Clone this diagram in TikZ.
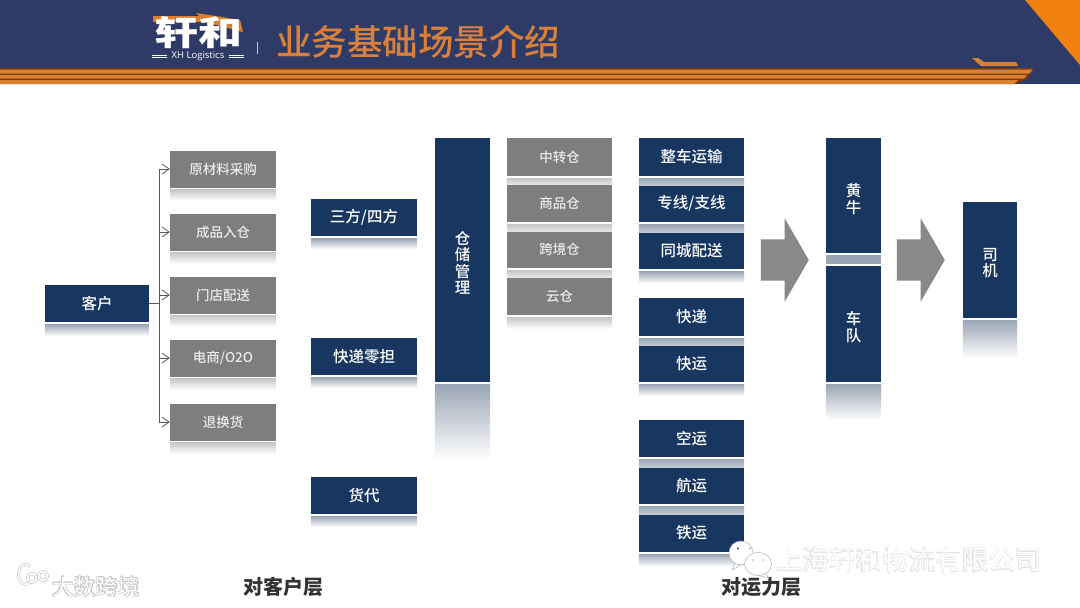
\documentclass[tikz,border=0pt]{standalone}
\usepackage{fontspec}
\usepackage[copies]{contour}
\setmainfont{Noto Sans CJK SC}
\newfontfamily\medfont{Noto Sans CJK SC Medium}
\newfontfamily\logofont{Open Sans}
\usetikzlibrary{arrows.meta,calc,shapes.arrows}
\definecolor{headnavy}{HTML}{2E3B66}
\definecolor{boxnavy}{HTML}{173660}
\definecolor{boxgray}{HTML}{7F7D7E}
\definecolor{arrowgray}{HTML}{8A8889}
\definecolor{stripeorange}{HTML}{D9812F}
\definecolor{stripebrown}{HTML}{7A3B14}
\definecolor{cornerorange}{HTML}{F08010}
\definecolor{titleorange}{HTML}{D8803C}
\definecolor{navymirror}{HTML}{9AA6B5}
\definecolor{graymirror}{HTML}{C8C7C7}
\newcommand{\boxfont}[1]{\medfont\fontsize{#1}{#1}\selectfont}
\newcommand{\mirror}[4]{\shade[top color=#3, bottom color=#4] ($(#1.south west)+(0,2)$) rectangle ($(#1.south east)+(0,#2)$);}
\tikzset{
  navybox/.style={fill=boxnavy, text=white, inner sep=0pt, minimum width=105pt, minimum height=37pt, font=\boxfont{15.5}},
  graybox/.style={fill=boxgray, text=white!92!black, inner sep=0pt, minimum width=106pt, minimum height=37pt, font=\boxfont{13.5}},
  tallbox/.style={navybox, minimum width=55pt, align=center},
  bigarrow/.style={shape=single arrow, fill=arrowgray, inner sep=0pt, minimum height=48pt, single arrow head extend=21pt, single arrow tip angle=120, anchor=tip},
  linkarrow/.style={draw=black!65, line width=0.8pt, -{Straight Barb[length=7pt,width=10pt]}},
  wmline/.style={draw=black!28, double=white, line width=0.5pt, double distance=1.8pt},
  layerlabel/.style={font=\fontsize{20}{20}\selectfont\bfseries, text=black!80}
}
\begin{document}
\begin{tikzpicture}[x=1pt,y=-1pt]
\useasboundingbox (0,0) rectangle (1080,608);
\fill[white] (0,0) rectangle (1080,608);
\fill[headnavy] (0,0) rectangle (1080,84);
\fill[cornerorange] (1025,0) -- (1080,0) -- (1080,65) -- cycle;
\fill[stripebrown] (0,68) -- (1033,68) -- (1027,79) -- (1016,84) -- (0,84) -- cycle;
\fill[stripeorange] (0,69.5) -- (1033,69.5) -- (1029,73.5) -- (0,73.5) -- cycle;
\fill[stripeorange] (0,75) -- (1027,75) -- (1024,78.5) -- (0,78.5) -- cycle;
\fill[stripeorange] (0,80) -- (1018,80) -- (1014,84) -- (0,84) -- cycle;
\fill[stripeorange] (972,58) -- (978,58) -- (984,62) -- (1016,62) -- (1018,66) -- (981,66) -- cycle;

\fill[stripeorange] (153,16) rectangle (205,22);
\fill[stripeorange] (196,13) -- (216,16) -- (240,20) -- (243,32) -- (205,22) -- cycle;
\node[text=white, font=\boxfont{40}\bfseries, inner sep=0pt, xscale=1.1, yscale=0.85] (logozi) at (198,33) {轩和};
\node[text=white, font=\logofont\fontsize{9.5}{9.5}\selectfont, inner sep=0pt] (logoen) at (198,56) {XH Logistics};
\draw[white, line width=0.5pt] (152,55) -- (167,55) (152,57) -- (167,57) (229,55) -- (244,55) (229,57) -- (244,57);
\draw[white!70!headnavy, line width=0.6pt] (257,42) -- (257,54);
\node[text=titleorange, font=\boxfont{35.5}, inner sep=0pt] (biaoti) at (418,42) {业务基础场景介绍};

\node[navybox, minimum width=104pt] (kehu) at (97,303.5) {客户};
\node[graybox] (yuancai) at (223,169) {原材料采购};
\node[graybox] (chengpin) at (223,232) {成品入仓};
\node[graybox] (mendian) at (223,295) {门店配送};
\node[graybox] (dianshang) at (223,358) {电商/O2O};
\node[graybox] (tuihuan) at (223,422) {退换货};
\coordinate (fenzhi) at (159,303.5);
\draw[black!65, line width=0.8pt] (kehu.east) -- (fenzhi);
\draw[linkarrow] (fenzhi) |- (yuancai.west);
\draw[linkarrow] (fenzhi) |- (chengpin.west);
\draw[linkarrow] (fenzhi) |- (mendian.west);
\draw[linkarrow] (fenzhi) |- (dianshang.west);
\draw[linkarrow] (fenzhi) |- (tuihuan.west);
\mirror{kehu}{14}{navymirror}{white}
\mirror{yuancai}{13}{graymirror}{white}
\mirror{chengpin}{13}{graymirror}{white}
\mirror{mendian}{13}{graymirror}{white}
\mirror{dianshang}{13}{graymirror}{white}
\mirror{tuihuan}{13}{graymirror}{white}

\node[navybox, minimum width=106pt] (sanfang) at (364,217.5) {三方/四方};
\node[navybox, minimum width=106pt] (kuaidi) at (364,356.5) {快递零担};
\node[navybox, minimum width=106pt] (huodai) at (364,495.5) {货代};
\mirror{sanfang}{13}{navymirror}{white}
\mirror{kuaidi}{13}{navymirror}{white}
\mirror{huodai}{13}{navymirror}{white}

\node[tallbox, minimum height=244pt] (cangchu) at (462.5,260) {};
\node[text=white, font=\boxfont{15.5}, align=center, inner sep=0pt] (cangchuzi) at (462.5,263) {仓\\[1pt]储\\[1pt]管\\[1pt]理};
\mirror{cangchu}{78}{navymirror}{white}

\node[graybox, minimum width=105pt, minimum height=38pt] (zhongzhuan) at (559.5,157) {中转仓};
\node[graybox, minimum width=105pt, minimum height=38pt] (shangpin) at (559.5,203) {商品仓};
\node[graybox, minimum width=105pt] (kuajing) at (559.5,249.5) {跨境仓};
\node[graybox, minimum width=105pt, minimum height=38pt] (yuncang) at (559.5,296) {云仓};
\mirror{zhongzhuan}{8}{graymirror}{black!10}
\mirror{shangpin}{9}{graymirror}{black!10}
\mirror{kuajing}{9}{graymirror}{black!10}
\mirror{yuncang}{14}{graymirror}{white}

\node[navybox, minimum height=38pt] (zhengche) at (691.5,157) {整车运输};
\node[navybox] (zhuanxian) at (691.5,203.5) {专线/支线};
\node[navybox] (tongcheng) at (691.5,250.5) {同城配送};
\node[navybox, minimum height=38pt] (kuaidi2) at (691.5,317) {快递};
\node[navybox] (kuaiyun) at (691.5,363.5) {快运};
\node[navybox] (kongyun) at (691.5,438.5) {空运};
\node[navybox] (hangyun) at (691.5,485.5) {航运};
\node[navybox, minimum height=38pt] (tieyun) at (691.5,533) {铁运};
\mirror{zhengche}{9}{navymirror}{navymirror!60}
\mirror{zhuanxian}{10}{navymirror}{navymirror!60}
\mirror{tongcheng}{14}{navymirror}{white}
\mirror{kuaidi2}{9}{navymirror}{navymirror!60}
\mirror{kuaiyun}{14}{navymirror}{white}
\mirror{kongyun}{10}{navymirror}{navymirror!60}
\mirror{hangyun}{10}{navymirror}{navymirror!60}
\mirror{tieyun}{14}{navymirror}{white}

\node[bigarrow] (jiantou1) at (809,260) {\rule{0pt}{41pt}};
\node[bigarrow] (jiantou2) at (945,260) {\rule{0pt}{41pt}};

\node[tallbox, minimum height=115pt] (huangniu) at (853.5,195.5) {};
\node[text=white, font=\boxfont{15.5}, align=center, inner sep=0pt] (huangniuzi) at (853.5,199) {黄\\[1pt]牛};
\node[tallbox, minimum height=116pt] (chedui) at (853.5,324) {};
\node[text=white, font=\boxfont{15.5}, align=center, inner sep=0pt] (cheduizi) at (853.5,327) {车\\[1pt]队};
\fill[navymirror] ($(huangniu.south west)+(0,2)$) rectangle ($(chedui.north east)+(0,-2)$);
\mirror{chedui}{38}{navymirror}{white}

\node[tallbox, minimum height=116pt, minimum width=54pt] (siji) at (990,260) {};
\node[text=white, font=\boxfont{15.5}, align=center, inner sep=0pt] (sijizi) at (990,263) {司\\[1pt]机};
\mirror{siji}{40}{navymirror}{white}

\node[layerlabel, inner sep=0pt] (duikehu) at (283,587) {对客户层};
\node[layerlabel, inner sep=0pt] (duiyunli) at (761,587) {对运力层};

\draw[black!30, fill=white, line width=0.5pt] (735,563) -- (732,570) -- (741,565) -- cycle;
\draw[black!30, fill=white, line width=0.5pt] (741,553) ellipse (12 and 12);
\draw[black!30, fill=white, line width=0.5pt] (764,572) -- (769,578) -- (757,575) -- cycle;
\draw[black!30, fill=white, line width=0.5pt] (758,564) ellipse (13.5 and 11.5);
\fill[black!70] (738,548.5) circle (1.2);
\fill[black!35] (750,548.5) circle (1);
\fill[black!30] (753,560) circle (0.9);
\fill[black!30] (763,560) circle (0.9);
\contourlength{0.3pt}
\node[font=\fontsize{26.5}{26.5}\selectfont, inner sep=0pt] (gongsi) at (909,560) {\contour{black!10}{\textcolor{white}{上海轩和物流有限公司}}};
\node[font=\fontsize{22}{22}\selectfont, inner sep=0pt] (dashu) at (96,587) {\contour{black!22}{\textcolor{white}{大数跨境}}};
\draw[wmline] (14,577) -- (14,598);
\draw[wmline] (30,582) arc (50:310:7 and 10);
\draw[wmline] (32,578) circle (4.5);
\draw[wmline] (43,576) circle (4.5);
\end{tikzpicture}
\end{document}
